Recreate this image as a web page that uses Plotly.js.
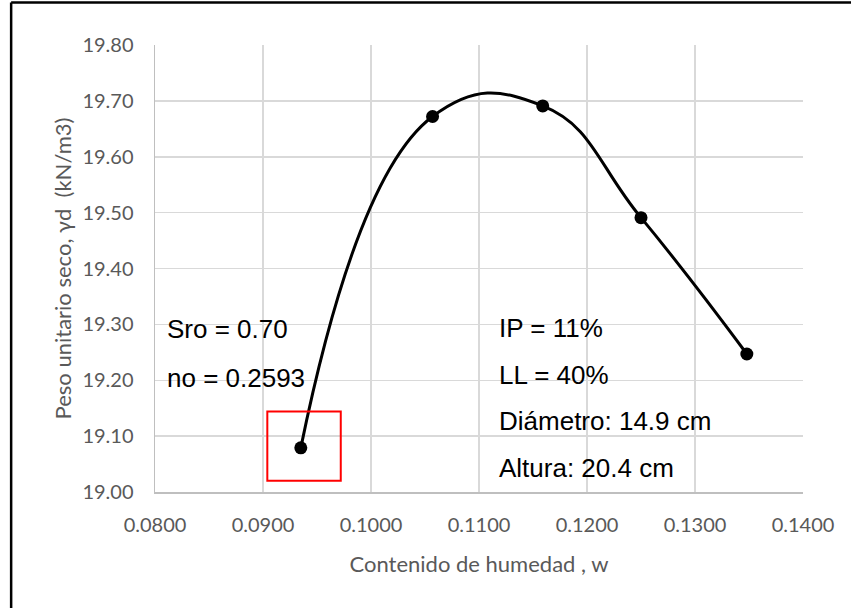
<!DOCTYPE html>
<html>
<head>
<meta charset="utf-8">
<script src="https://cdn.plot.ly/plotly-3.0.1.min.js"></script>
<style>
html,body{margin:0;padding:0;background:#fff;}
#chart{width:851px;height:608px;}
</style>
</head>
<body>
<div id="chart"></div>
<script>
const moisture = [0.0935, 0.1057, 0.1159, 0.1250, 0.1348];
const dryUnitWeight = [19.079, 19.672, 19.691, 19.491, 19.247];
const xTickVals = [0.08, 0.09, 0.10, 0.11, 0.12, 0.13, 0.14];
const xTickText = ['0.0800', '0.0900', '0.1000', '0.1100', '0.1200', '0.1300', '0.1400'];
const yTickVals = [19.0, 19.1, 19.2, 19.3, 19.4, 19.5, 19.6, 19.7, 19.8];
const yTickText = ['19.00', '19.10', '19.20', '19.30', '19.40', '19.50', '19.60', '19.70', '19.80'];
const leftNotes = ['Sro = 0.70', 'no = 0.2593'];
const leftNoteY = [19.292, 19.204];
const rightNotes = ['IP = 11%', 'LL = 40%', 'Diámetro: 14.9 cm', 'Altura: 20.4 cm'];
const rightNoteY = [19.293, 19.209, 19.127, 19.043];

const tickFont = {family: 'Lato, Calibri, sans-serif', size: 20, color: '#595959'};
const noteFont = {family: 'Liberation Sans, Arial, sans-serif', size: 26, color: '#000000'};

const annotations = [];
leftNotes.forEach((t, i) => annotations.push({
  text: t, xref: 'x', yref: 'y', x: 0.0809, y: leftNoteY[i],
  xanchor: 'left', yanchor: 'middle', showarrow: false, font: noteFont
}));
rightNotes.forEach((t, i) => annotations.push({
  text: t, xref: 'x', yref: 'y', x: 0.1117, y: rightNoteY[i],
  xanchor: 'left', yanchor: 'middle', showarrow: false, font: noteFont
}));

const trace = {
  x: moisture, y: dryUnitWeight, type: 'scatter', mode: 'lines+markers',
  line: {shape: 'spline', smoothing: 1.3, color: '#000000', width: 3},
  marker: {color: '#000000', size: 13},
  hoverinfo: 'skip', showlegend: false
};

const layout = {
  width: 851, height: 608,
  paper_bgcolor: '#ffffff', plot_bgcolor: '#ffffff',
  margin: {l: 155, r: 48, t: 45, b: 116},
  showlegend: false,
  xaxis: {
    range: [0.08, 0.14], tickvals: xTickVals, ticktext: xTickText,
    showgrid: true, gridcolor: '#d9d9d9', gridwidth: 1.5,
    showline: true, linecolor: '#bfbfbf', linewidth: 1.5,
    zeroline: false, ticks: '', ticklen: 0, tickfont: tickFont,
    ticklabelstandoff: 14,
    title: {text: 'Contenido de humedad , w', font: {family: 'Lato, Calibri, sans-serif', size: 22, color: '#595959'}, standoff: 22},
    fixedrange: true
  },
  yaxis: {
    range: [19.0, 19.8], tickvals: yTickVals, ticktext: yTickText,
    showgrid: true, gridcolor: '#d9d9d9', gridwidth: 1.5,
    showline: true, linecolor: '#bfbfbf', linewidth: 1.5,
    zeroline: false, ticks: '', ticklen: 0, tickfont: tickFont,
    ticklabelstandoff: 16,
    title: {text: 'Peso unitario seco, γd  (kN/m3)', font: {family: 'Lato, Calibri, sans-serif', size: 22, color: '#595959'}, standoff: 4},
    fixedrange: true
  },
  annotations: annotations,
  shapes: [
    {type: 'rect', xref: 'x', yref: 'y', x0: 0.0904, x1: 0.0972, y0: 19.02, y1: 19.144,
     line: {color: '#ff0000', width: 2}, fillcolor: 'rgba(0,0,0,0)'},
    {type: 'line', xref: 'paper', yref: 'paper', x0: -0.222, x1: 1.2, y0: 1.095, y1: 1.095,
     line: {color: '#000000', width: 2.5}},
    {type: 'line', xref: 'paper', yref: 'paper', x0: -0.222, x1: -0.222, y0: 1.095, y1: -0.3,
     line: {color: '#000000', width: 2.5}}
  ]
};

Plotly.newPlot('chart', [trace], layout, {displayModeBar: false, staticPlot: true});
</script>
</body>
</html>
